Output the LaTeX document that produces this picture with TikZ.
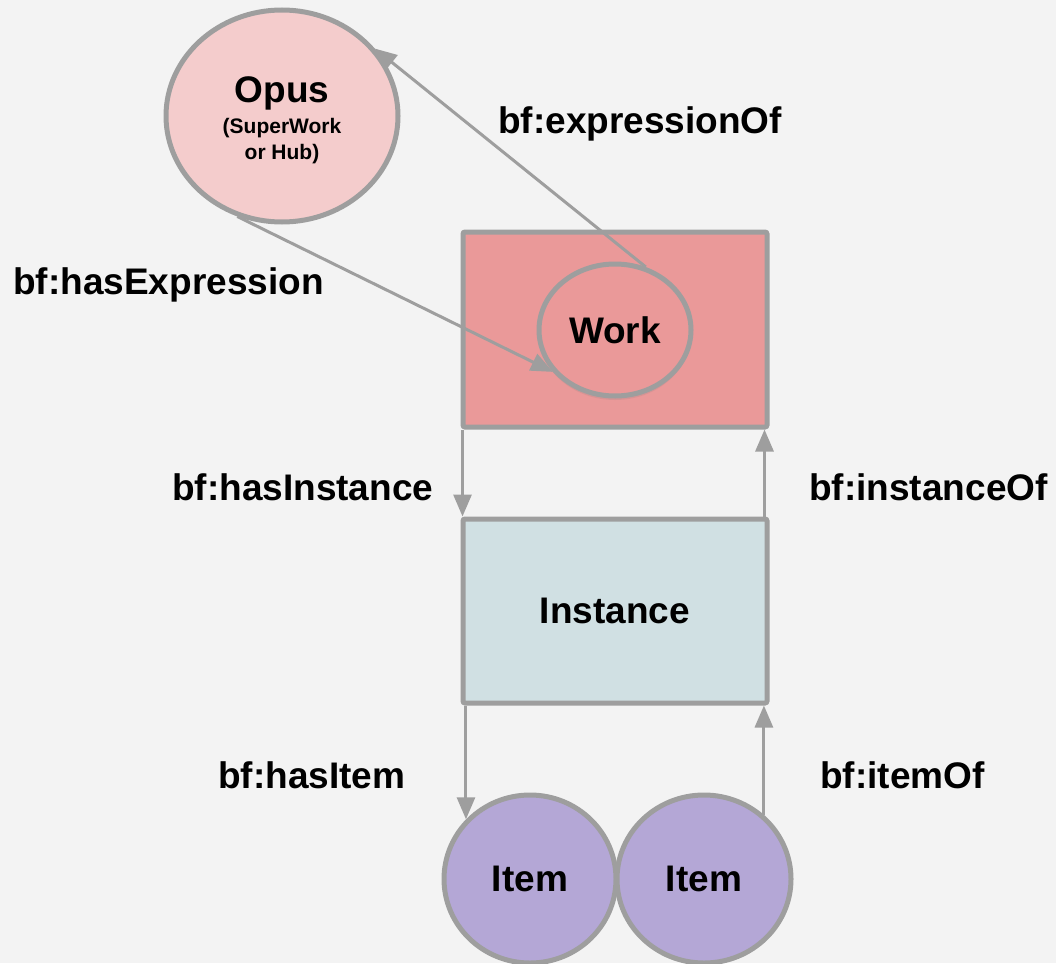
\documentclass[tikz,border=0pt]{standalone}
\usepackage{fontspec}
\setmainfont{Liberation Sans}
\usetikzlibrary{arrows.meta,shadows}
\definecolor{bgc}{HTML}{F3F3F3}
\definecolor{edgec}{HTML}{9E9E9E}
\definecolor{opusc}{HTML}{F4CCCC}
\definecolor{workc}{HTML}{EA9999}
\definecolor{instc}{HTML}{D0E0E3}
\definecolor{itemc}{HTML}{B4A7D6}
\tikzset{
  bigfont/.style={font=\fontsize{37}{40}\selectfont\bfseries},
  shapebox/.style={draw=edgec, line width=5pt, inner sep=0pt, bigfont},
  rectbox/.style={shapebox, rectangle, rounded corners=2pt},
  ovalbox/.style={shapebox, ellipse},
  rel/.style={draw=edgec, line width=3pt, -{Triangle[width=18pt,length=22pt]}},
  rellabel/.style={bigfont, inner sep=0pt, anchor=base west},
}
\usetikzlibrary{shapes.geometric}
\begin{document}
\begin{tikzpicture}[x=1pt,y=-1pt]
\fill[bgc] (0,0) rectangle (1056,963);
\useasboundingbox (0,0) rectangle (1056,963);

% nodes
\node[ovalbox, fill=opusc, minimum width=232pt, minimum height=212pt] (opus) at (282,116) {};
\node[inner sep=0pt, align=center, font=\fontsize{21}{26}\selectfont\bfseries] (opustxt) at (282,120.5)
  {{\fontsize{37}{37}\selectfont Opus}\\[4.5pt](SuperWork\\or Hub)};
\node[rectbox, fill=workc, minimum width=304pt, minimum height=195pt] (work) at (615,329.5) {};
\node[ovalbox, fill=workc, minimum width=152pt, minimum height=132pt,
      drop shadow={shadow xshift=0pt, shadow yshift=-4pt, opacity=0.18}] (workc) at (615,330) {Work};
\node[rectbox, fill=instc, minimum width=304pt, minimum height=184pt] (inst) at (615,611) {Instance};
\node[ovalbox, fill=itemc, minimum width=172pt, minimum height=168pt] (item1) at (530,879) {Item};
\node[ovalbox, fill=itemc, minimum width=174pt, minimum height=168pt] (item2) at (704,879) {Item};

% connectors
\draw[rel] (opus.246) -- (workc.214);
\draw[rel] (workc.64) -- (opus.36);
\draw[rel] ([xshift=2pt]work.south west) -- ([xshift=2pt]inst.north west);
\draw[rel] ([xshift=-5pt]inst.north east) -- ([xshift=-5pt]work.south east);
\draw[rel] (item1.137 |- inst.south) -- (item1.137);
\draw[rel] (item2.47) -- (item2.47 |- inst.south);

% labels
\node[rellabel] (lexpof) at (498,133) {bf:expressionOf};
\node[rellabel] (lhasexp) at (13,294) {bf:hasExpression};
\node[rellabel] (lhasinst) at (172,500) {bf:hasInstance};
\node[rellabel] (linstof) at (809,500) {bf:instanceOf};
\node[rellabel] (lhasitem) at (218,788) {bf:hasItem};
\node[rellabel] (litemof) at (820,788) {bf:itemOf};
\end{tikzpicture}
\end{document}
